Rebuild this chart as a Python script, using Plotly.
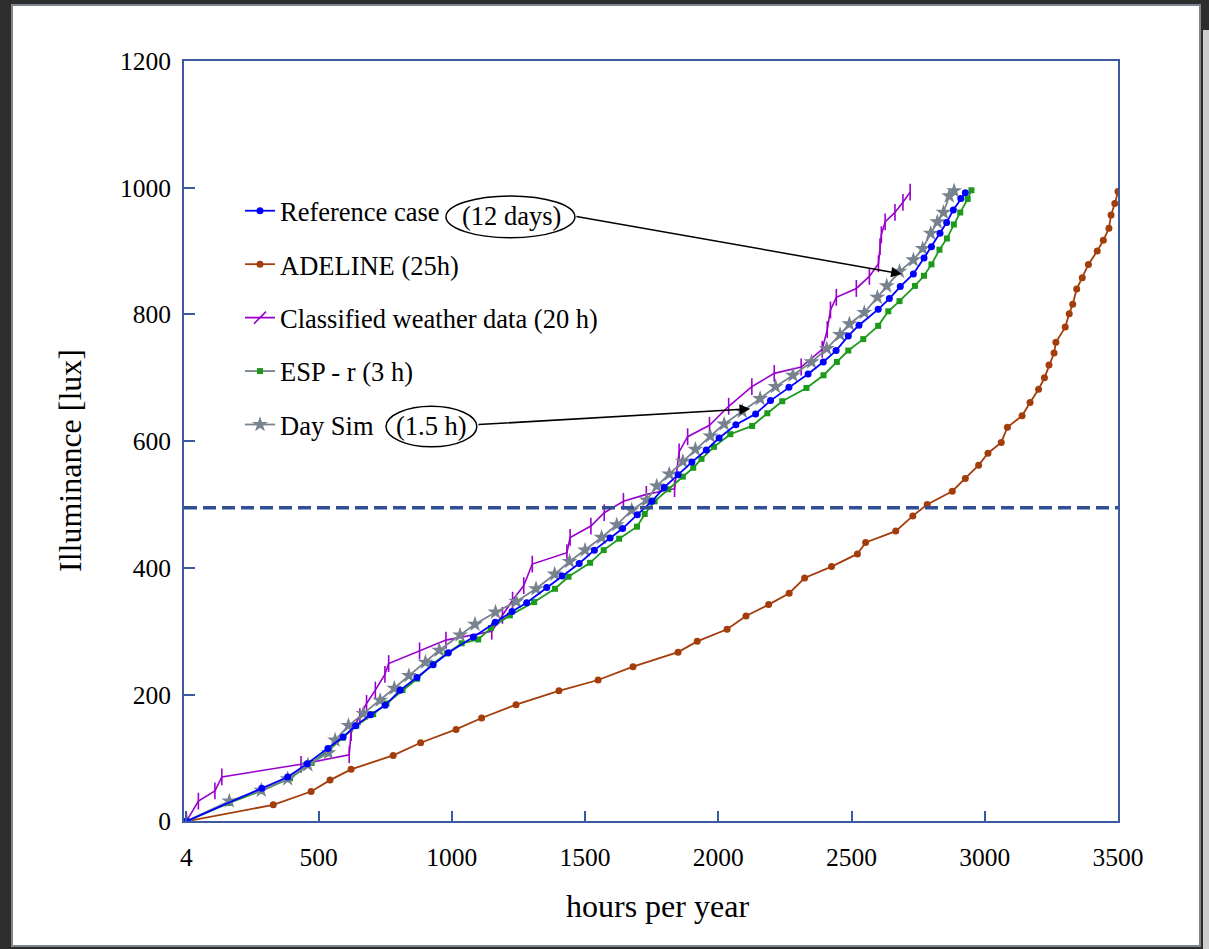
import plotly.graph_objects as go

# ---------------- data ----------------
ref_x = [4, 287, 384, 457, 535, 592, 639, 695, 750, 806, 869, 930, 987, 1081, 1163, 1226, 1281, 1356, 1414,
         1478, 1535, 1594, 1641, 1696, 1751, 1797, 1849, 1901, 1955, 2003, 2066, 2140, 2196, 2265, 2337, 2394,
         2442, 2488, 2528, 2600, 2642, 2683, 2732, 2772, 2800, 2832, 2857, 2882, 2910, 2927]
ref_y = [0, 52, 70, 91, 115, 133, 151, 168, 183, 207, 227, 247, 266, 291, 314, 331, 345, 369, 387,
         407, 428, 447, 462, 484, 505, 527, 547, 567, 586, 605, 626, 643, 664, 685, 706, 725,
         743, 766, 783, 808, 825, 844, 864, 889, 907, 928, 945, 965, 983, 992]

adeline_x = [4, 330, 472, 543, 622, 780, 883, 1016, 1112, 1241, 1402, 1549, 1680, 1849, 1921, 2033, 2104, 2189,
             2266, 2324, 2425, 2522, 2553, 2666, 2730, 2784, 2878, 2927, 2977, 3012, 3062, 3085, 3140, 3170,
             3202, 3224, 3241, 3260, 3267, 3302, 3317, 3330, 3345, 3366, 3389, 3422, 3445, 3466, 3474, 3488, 3500]
adeline_y = [0, 26, 47, 65, 82, 104, 124, 145, 163, 184, 206, 223, 244, 267, 284, 303, 324, 342,
             360, 384, 402, 422, 440, 458, 482, 500, 521, 541, 562, 581, 598, 622, 640, 661,
             682, 700, 720, 739, 756, 780, 801, 816, 840, 858, 879, 900, 917, 936, 957, 975, 994]

cwd_x = [4, 49, 111, 137, 434, 615, 622, 655, 680, 713, 749, 763, 879, 978, 1150, 1190, 1228, 1270, 1302,
         1432, 1444, 1522, 1572, 1644, 1730, 1836, 1853, 1885, 1967, 2039, 2126, 2210, 2311, 2390, 2409,
         2421, 2443, 2518, 2567, 2601, 2607, 2612, 2626, 2663, 2693, 2720]
cwd_y = [0, 32, 48, 70, 90, 105, 140, 165, 186, 207, 232, 249, 269, 286, 300, 325, 349, 372, 406,
         424, 448, 466, 487, 505, 516, 525, 583, 607, 625, 655, 686, 707, 717, 745, 776,
         807, 827, 841, 860, 880, 907, 926, 946, 961, 977, 993]

esp_x = [4, 165, 285, 393, 474, 540, 592, 642, 705, 755, 815, 870, 927, 981, 1037, 1099, 1147, 1218, 1309,
         1387, 1438, 1519, 1570, 1628, 1695, 1724, 1761, 1812, 1867, 1906, 1937, 1984, 2045, 2127, 2184,
         2240, 2331, 2395, 2445, 2488, 2544, 2600, 2638, 2680, 2738, 2772, 2800, 2830, 2858, 2884, 2908,
         2936, 2950]
esp_y = [0, 29, 48, 68, 92, 113, 132, 151, 169, 186, 207, 225, 248, 265, 281, 287, 305, 325, 346,
         367, 386, 408, 428, 446, 465, 485, 505, 524, 544, 558, 572, 591, 611, 624, 644,
         663, 684, 704, 725, 743, 761, 782, 805, 821, 845, 861, 879, 902, 920, 942, 961,
         982, 996]

daysim_x = [4, 165, 285, 384, 460, 537, 562, 612, 668, 731, 784, 839, 901, 953, 1031, 1087, 1164, 1242, 1316,
            1386, 1442, 1500, 1562, 1619, 1675, 1731, 1769, 1816, 1867, 1914, 1970, 2022, 2090, 2157, 2215,
            2280, 2350, 2407, 2457, 2492, 2548, 2597, 2632, 2680, 2732, 2767, 2797, 2822, 2845, 2867, 2885]
daysim_y = [0, 32, 49, 67, 89, 108, 128, 151, 170, 191, 210, 230, 251, 270, 294, 311, 330, 347, 367,
            390, 410, 428, 448, 468, 491, 507, 529, 548, 568, 587, 608, 627, 647, 667, 686,
            704, 725, 746, 768, 785, 803, 827, 845, 868, 886, 904, 928, 946, 961, 987, 995]

threshold = 495

series_names = ["Reference case", "ADELINE (25h)", "Classified weather data (20 h)", "ESP - r (3 h)", "Day Sim"]
x_ticks = [4, 500, 1000, 1500, 2000, 2500, 3000, 3500]
y_ticks = [0, 200, 400, 600, 800, 1000, 1200]

# ---------------- styling ----------------
W, H = 1209, 949
FONT = "Liberation Serif, Times New Roman, serif"
AX = "#3b5aa2"
C_REF = "#0000ff"
C_ADE = "#a33d0b"
C_CWD = "#9a00cc"
C_ESP = "#1c9a1c"
C_DAY = "#76828e"

def px_x(p):
    return p / W

def px_y(p):
    return 1 - p / H

fig = go.Figure()

# main traces
fig.add_trace(go.Scatter(x=adeline_x, y=adeline_y, mode="lines+markers", showlegend=False,
                         line=dict(color=C_ADE, width=1.8), marker=dict(symbol="circle", size=7, color=C_ADE)))
fig.add_trace(go.Scatter(x=cwd_x, y=cwd_y, mode="lines+markers", showlegend=False,
                         line=dict(color=C_CWD, width=1.6),
                         marker=dict(symbol="line-ns-open", size=12, line=dict(color=C_CWD, width=1.6))))
fig.add_trace(go.Scatter(x=esp_x, y=esp_y, mode="lines+markers", showlegend=False,
                         line=dict(color=C_ESP, width=1.8), marker=dict(symbol="square", size=6, color=C_ESP)))
fig.add_trace(go.Scatter(x=daysim_x, y=daysim_y, mode="lines+markers", showlegend=False,
                         line=dict(color=C_DAY, width=1.8), marker=dict(symbol="star", size=12, color=C_DAY)))
fig.add_trace(go.Scatter(x=ref_x, y=ref_y, mode="lines+markers", showlegend=False,
                         line=dict(color=C_REF, width=1.8), marker=dict(symbol="circle", size=7, color=C_REF)))

# threshold dashed line
fig.add_trace(go.Scatter(x=[-5, 3500], y=[threshold, threshold], mode="lines", showlegend=False,
                         line=dict(color="#2f4e94", width=3.5, dash="13px,6px")))

# legend entries
leg_styles = [
    (C_REF, dict(symbol="circle", size=7, color=C_REF)),
    (C_ADE, dict(symbol="circle", size=7, color=C_ADE)),
    (C_CWD, dict(symbol="line-ne-open", size=12, line=dict(color=C_CWD, width=1.6))),
    (C_DAY, dict(symbol="square", size=6, color=C_ESP)),
    (C_DAY, dict(symbol="star", size=12, color=C_DAY)),
]
for i, (name, (lc, mk)) in enumerate(zip(series_names, leg_styles)):
    fig.add_trace(go.Scatter(x=[None], y=[None], mode="lines+markers", name=name, legendgroup=f"g{i}",
                             line=dict(color=lc, width=1.8), marker=mk))

shapes = [
    # page background
    dict(type="rect", xref="paper", yref="paper", x0=px_x(12), x1=px_x(1200), y0=px_y(946), y1=px_y(5),
         fillcolor="white", line=dict(color="#7d8590", width=2), layer="below"),
    dict(type="rect", xref="paper", yref="paper", x0=px_x(1203), x1=1, y0=0, y1=px_y(30),
         fillcolor="#cdcdcd", line=dict(width=0), layer="below"),
    # ellipses
    dict(type="circle", xref="x", yref="y", x0=978, x1=1462, y0=921, y1=987,
         line=dict(color="black", width=1.5)),
    dict(type="circle", xref="x", yref="y", x0=753, x1=1094, y0=591, y1=655,
         line=dict(color="black", width=1.5)),
]

annotations = [
    dict(x=1224, y=955, xref="x", yref="y", text="(12 days)", showarrow=False,
         font=dict(family=FONT, size=26.5, color="black")),
    dict(x=925, y=624, xref="x", yref="y", text="(1.5 h)", showarrow=False,
         font=dict(family=FONT, size=26.5, color="black")),
    dict(x=2688, y=864, xref="x", yref="y", ax=1462, ay=955, axref="x", ayref="y", text="",
         showarrow=True, arrowhead=2, arrowsize=1.4, arrowwidth=1.5, arrowcolor="black", standoff=0),
    dict(x=2119, y=651, xref="x", yref="y", ax=1094, ay=626, axref="x", ayref="y", text="",
         showarrow=True, arrowhead=2, arrowsize=1.4, arrowwidth=1.5, arrowcolor="black", standoff=0),
    dict(x=px_x(657), y=px_y(906), xref="paper", yref="paper", text="hours per year", showarrow=False,
         xanchor="center", yanchor="middle", font=dict(family=FONT, size=32, color="black")),
    dict(x=px_x(70), y=px_y(461), xref="paper", yref="paper", text="Illuminance [lux]", showarrow=False,
         xanchor="center", yanchor="middle", textangle=-90, font=dict(family=FONT, size=32, color="black")),
]

fig.update_layout(
    width=W, height=H,
    margin=dict(l=0, r=0, t=0, b=0),
    paper_bgcolor="#2d2d2d",
    plot_bgcolor="white",
    shapes=shapes,
    annotations=annotations,
    legend=dict(x=px_x(240), y=px_y(187), xanchor="left", yanchor="top",
                bgcolor="rgba(0,0,0,0)", font=dict(family=FONT, size=26.5, color="black"),
                traceorder="grouped", tracegroupgap=16, itemwidth=30),
    xaxis=dict(domain=[px_x(184), px_x(1118)], range=[-5, 3500], tickvals=x_ticks,
               showgrid=False, zeroline=False, showline=True, mirror=True, linecolor=AX, linewidth=2,
               ticks="inside", ticklen=10, tickwidth=2, tickcolor=AX, automargin=False,
               ticklabelstandoff=12,
               tickfont=dict(family=FONT, size=25.5, color="black")),
    yaxis=dict(domain=[px_y(821.3), px_y(61)], range=[0, 1200], tickvals=y_ticks,
               showgrid=False, zeroline=False, showline=True, mirror=True, linecolor=AX, linewidth=2,
               ticks="inside", ticklen=11, tickwidth=2, tickcolor=AX, automargin=False,
               ticklabelstandoff=6,
               tickfont=dict(family=FONT, size=25.5, color="black")),
)

fig.write_html(
    "out.html",
    config={"displayModeBar": False},
    post_script="document.body.style.margin='0px';document.body.style.overflow='hidden';"
                "document.documentElement.style.overflow='hidden';",
)
